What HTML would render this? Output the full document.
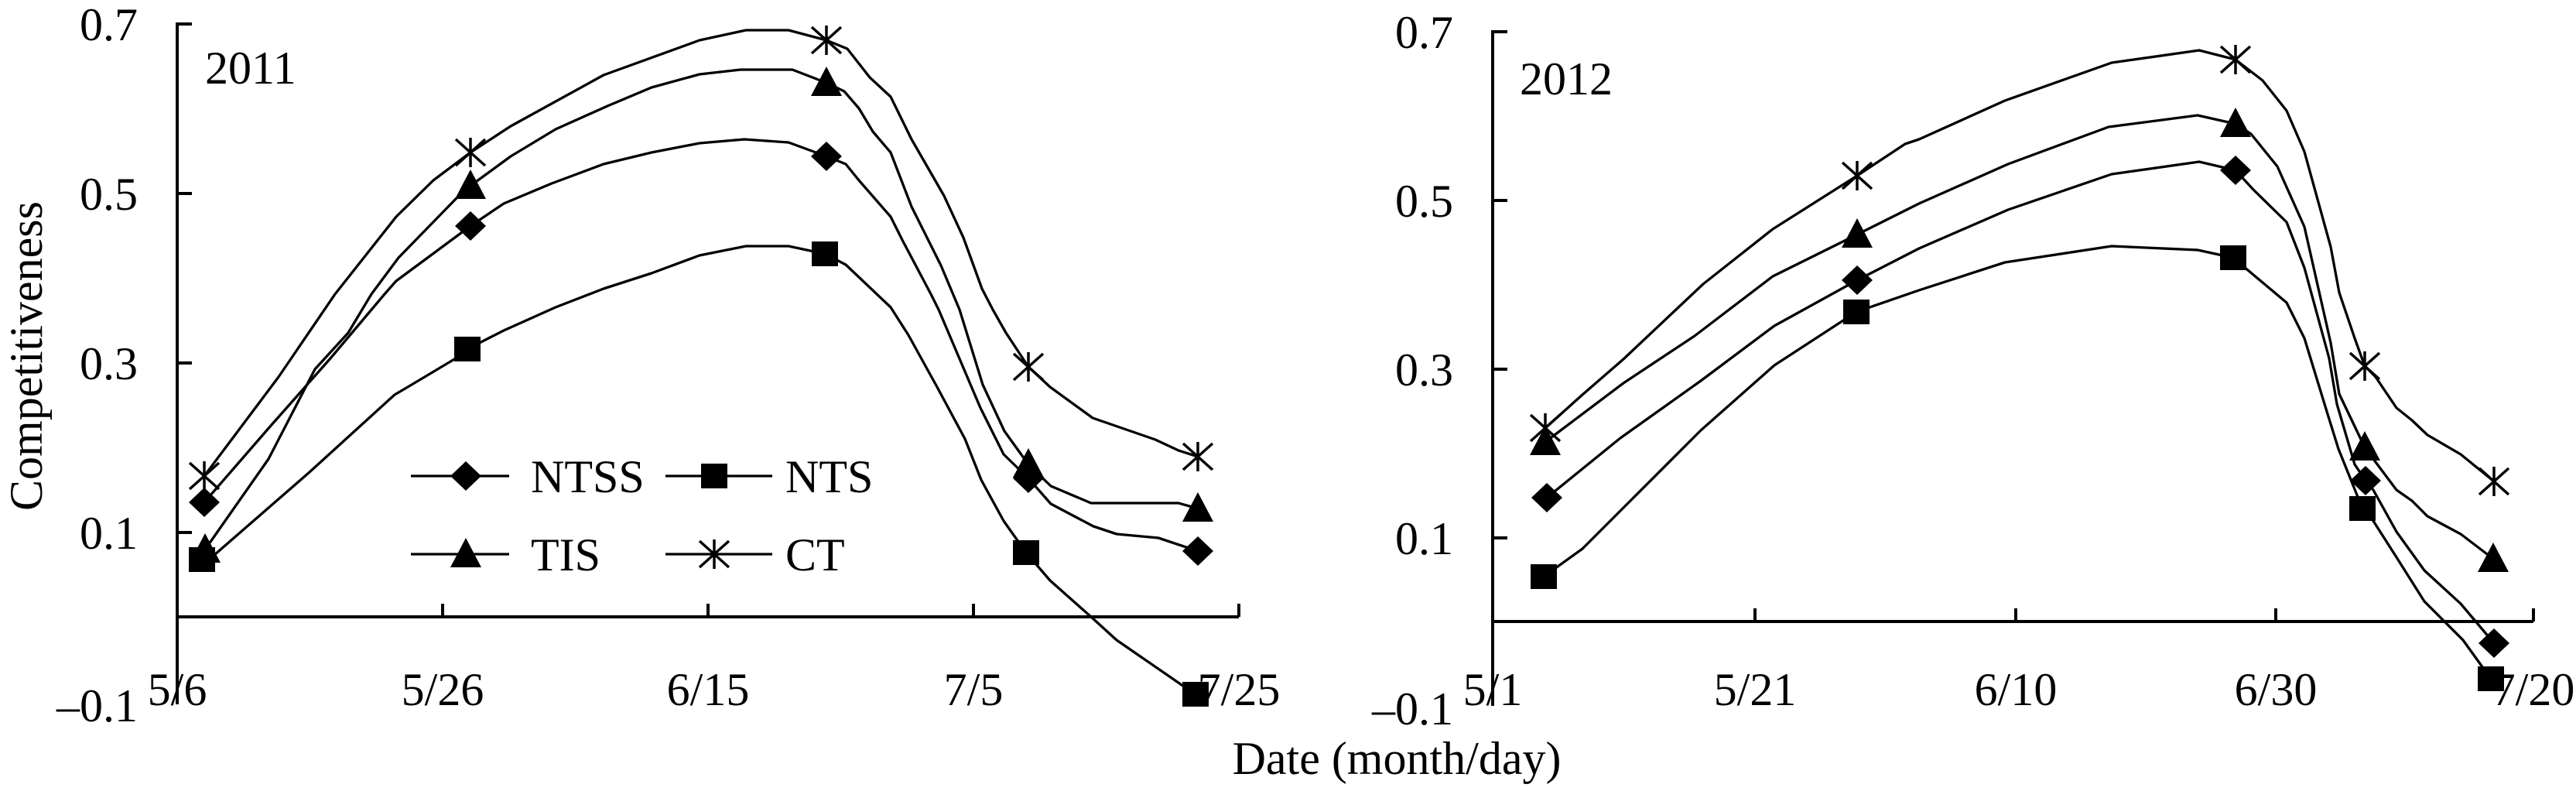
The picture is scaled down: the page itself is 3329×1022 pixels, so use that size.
<!DOCTYPE html>
<html><head><meta charset="utf-8"><style>html,body{margin:0;padding:0;background:#fff}svg{display:block}text{font-family:"Liberation Serif",serif;fill:#000}</style></head><body>
<svg width="3329" height="1022" viewBox="0 0 3329 1022" xmlns="http://www.w3.org/2000/svg">
<defs>
<path id="d" d="M0,-19 L20,0 L0,19 L-20,0Z" fill="#000"/>
<rect id="s" x="-17" y="-16" width="34" height="32" fill="#000"/>
<path id="t" d="M0,-21 L20,17 L-20,17Z" fill="#000"/>
<path id="c" d="M0,-19V19M-19,-17L19,17M-19,17L19,-17" stroke="#000" stroke-width="3.5" fill="none"/>
</defs>
<g stroke="#000" stroke-width="4" fill="none">
<path d="M229,29V910M229,31h19M229,250h19M229,469h19M229,688h19M229,797H1601M572,797v-17M915,797v-17M1258,797v-17M1601,797v-17"/>
<path d="M1929,39V912M1929,41h19M1929,259h19M1929,477h19M1929,695h19M1929,803H3274M2268,803v-17M2605,803v-17M2941,803v-17M3274,803v-17"/>
</g>
<g stroke="#000" stroke-width="3.3" fill="none" stroke-linejoin="round">
<polyline points="264,615 360,487 433,380 512,280 560,233 608,197 660,163 780,97 904,52 964,39 1019,39 1068,52 1095,63 1124,100 1151,125 1178,180 1220,253 1245,307 1269,373 1283,400 1300,430 1329,474 1357,500 1412,540 1493,568 1523,582 1548,590"/>
<polyline points="265,710 347,593 407,477 450,430 480,380 515,333 589,257 608,240 660,202 718,167 785,137 842,113 904,96 957,90 1024,90 1068,107 1091,118 1110,140 1128,170 1151,197 1178,267 1216,343 1240,400 1270,497 1298,557 1329,600 1358,628 1410,650 1523,650 1548,657"/>
<polyline points="264,649 350,550 427,463 497,380 512,363 608,292 651,263 713,237 780,212 842,197 904,185 962,180 1019,184 1068,202 1093,212 1110,233 1151,280 1166,310 1203,380 1213,400 1267,527 1297,587 1329,618 1358,651 1413,680 1443,690 1497,695 1548,712"/>
<polyline points="261,723 277,717 400,610 510,510 527,500 589,463 604,451 651,427 718,397 780,373 842,353 904,330 964,318 1019,318 1066,328 1093,342 1151,397 1174,433 1211,500 1247,567 1268,620 1297,673 1326,714 1357,750 1410,797 1443,827 1530,887 1545,897"/>
<polyline points="1997,553 2045,510 2098,464 2201,367 2291,296 2400,227 2462,186 2480,180 2591,130 2729,81 2842,65 2889,77 2924,104 2955,143 2978,196 3012,319 3023,378 3043,437 3056,473 3070,487 3097,527 3117,543 3137,562 3180,587 3223,622"/>
<polyline points="1997,571 2098,495 2190,434 2291,357 2400,303 2480,263 2595,212 2725,164 2840,149 2889,160 2909,173 2943,215 2978,293 3012,443 3023,509 3056,578 3070,597 3097,633 3117,647 3137,667 3180,690 3222,722"/>
<polyline points="1999,643 2094,566 2198,492 2293,421 2400,362 2480,321 2595,271 2729,225 2842,209 2889,220 2912,245 2955,287 2978,346 3010,463 3020,522 3043,600 3057,621 3067,633 3097,687 3133,737 3180,780 3223,831"/>
<polyline points="1995,745 2045,709 2106,648 2198,556 2293,472 2399,403 2480,375 2591,339 2729,318 2840,323 2886,333 2912,355 2955,391 2978,437 3008,535 3022,580 3053,657 3067,673 3097,720 3133,777 3183,827 3219,877"/>
<path d="M531,615H658M860,615H998M531,716H658M860,716H998"/>
</g>
<use href="#c" x="264" y="615"/><use href="#c" x="608" y="197"/><use href="#c" x="1068" y="52"/><use href="#c" x="1329" y="474"/><use href="#c" x="1548" y="590"/>
<use href="#t" x="265" y="710"/><use href="#t" x="608" y="240"/><use href="#t" x="1068" y="107"/><use href="#t" x="1329" y="600"/><use href="#t" x="1548" y="657"/>
<use href="#d" x="264" y="649"/><use href="#d" x="608" y="292"/><use href="#d" x="1068" y="202"/><use href="#d" x="1329" y="618"/><use href="#d" x="1548" y="712"/>
<use href="#s" x="261" y="723"/><use href="#s" x="604" y="451"/><use href="#s" x="1066" y="328"/><use href="#s" x="1326" y="714"/><use href="#s" x="1545" y="897"/>
<use href="#c" x="1997" y="553"/><use href="#c" x="2400" y="227"/><use href="#c" x="2889" y="77"/><use href="#c" x="3056" y="473"/><use href="#c" x="3223" y="622"/>
<use href="#t" x="1997" y="571"/><use href="#t" x="2400" y="303"/><use href="#t" x="2889" y="160"/><use href="#t" x="3056" y="578"/><use href="#t" x="3222" y="722"/>
<use href="#d" x="1999" y="643"/><use href="#d" x="2400" y="362"/><use href="#d" x="2889" y="220"/><use href="#d" x="3057" y="621"/><use href="#d" x="3223" y="831"/>
<use href="#s" x="1995" y="745"/><use href="#s" x="2399" y="403"/><use href="#s" x="2886" y="333"/><use href="#s" x="3053" y="657"/><use href="#s" x="3219" y="877"/>
<use href="#d" x="602" y="615"/><use href="#s" x="923" y="615"/><use href="#t" x="602" y="716"/><use href="#c" x="923" y="716"/>
<g font-size="60">
<text x="686" y="636">NTSS</text><text x="1015" y="636">NTS</text>
<text x="686" y="737">TIS</text><text x="1015" y="737">CT</text>
<text x="265" y="108">2011</text>
<text x="1964" y="122">2012</text>
<g text-anchor="end">
<text x="178" y="52">0.7</text><text x="178" y="271">0.5</text><text x="178" y="490">0.3</text><text x="178" y="709">0.1</text><text x="178" y="932">–0.1</text>
<text x="1878" y="62">0.7</text><text x="1878" y="280">0.5</text><text x="1878" y="498">0.3</text><text x="1878" y="716">0.1</text><text x="1878" y="936">–0.1</text>
</g>
<g text-anchor="middle">
<text x="229" y="911">5/6</text><text x="572" y="911">5/26</text><text x="915" y="911">6/15</text><text x="1258" y="911">7/5</text><text x="1601" y="911">7/25</text>
<text x="1929" y="911">5/1</text><text x="2268" y="911">5/21</text><text x="2605" y="911">6/10</text><text x="2941" y="911">6/30</text><text x="3274" y="911">7/20</text>
<text x="1805" y="1000">Date (month/day)</text>
<text transform="translate(54,460) rotate(-90)">Competitiveness</text>
</g>
</g>
</svg>
</body></html>
